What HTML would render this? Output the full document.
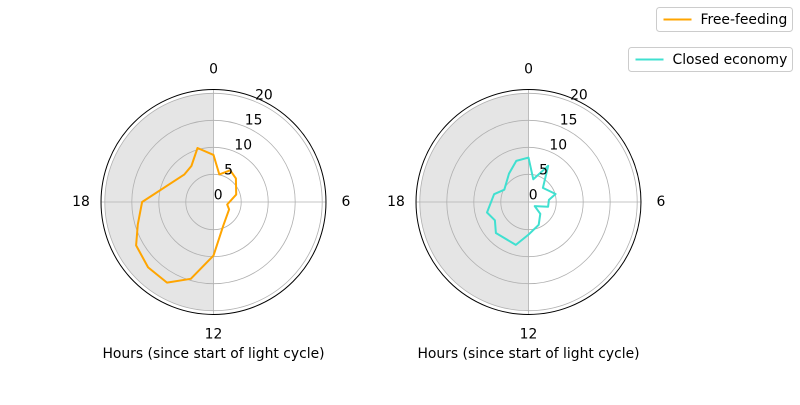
<!DOCTYPE html>
<html><head><meta charset="utf-8"><style>
body{margin:0;background:#fff;}
svg text{font-family:"DejaVu Sans","Liberation Sans",sans-serif;font-size:13.9px;fill:#000;}
</style></head><body>
<svg id="c" width="800" height="400"></svg>
<script>
const hoursFree=[0,0.79,1.85,2.9,4.8,6.7,7.7,10.5,12,13.1,14,15,16.05,16.9,18,20.9,21.9,22.9];
const valuesFree=[8.6,5.1,6.5,5.9,4.3,2.45,3.07,4.6,9.8,14.7,17.1,17.0,16.3,14.5,13.1,7.3,7.7,10.3];
const hoursClosed=[0,0.8,1.9,3.05,4.9,5.6,6.9,8.2,9,10.4,12,13.1,15.1,16.1,17.05,18.85,19.8,21.7,22.9,23.8];
const valuesClosed=[8.1,4.16,7.5,3.6,5.1,3.66,3.6,1.25,2.97,4.5,5.9,8.15,8.2,6.96,7.8,6.4,4.9,6.25,7.8,8.0];
const rTicks=[0,5,10,15,20];
const angleTicks=[0,6,12,18];
const NS="http://www.w3.org/2000/svg";
const svg=document.getElementById('c');
function mk(tag,attrs,parent){const e=document.createElementNS(NS,tag);for(const k in attrs)e.setAttribute(k,attrs[k]);(parent||svg).appendChild(e);return e;}
const PX=5.4,R0=0.7,RMAX=20.7;
function rad(v){return R0+v*PX;}
function pt(cx,cy,h,v){const a=h/24*2*Math.PI;const r=rad(v);return [cx+r*Math.sin(a),cy-r*Math.cos(a)];}
function panel(cx,cy,hours,vals,color,name){
  const g=mk('g',{});
  
  
  const rg=rad(20);
  const sh=mk('path',{d:`M${cx},${cy-rg} A${rg},${rg} 0 0 0 ${cx},${cy+rg} Z`,fill:'#e5e5e5'},g);
  
  
  rTicks.forEach(t=>{if(t>0){const c=mk('circle',{cx,cy,r:rad(t),fill:'none',stroke:'#b0b0b0','stroke-width':0.8},g);
    }});
  const Ro=rad(RMAX);
  mk('line',{x1:cx,y1:cy-Ro,x2:cx,y2:cy+Ro,stroke:'#b0b0b0','stroke-width':0.8},g);
  mk('line',{x1:cx-Ro,y1:cy,x2:cx+Ro,y2:cy,stroke:'#b0b0b0','stroke-width':0.8},g);
  const oc=mk('circle',{cx,cy,r:Ro,fill:'none',stroke:'#000','stroke-width':1},g);
  
  const d=hours.map((h,i)=>{const p=pt(cx,cy,h,vals[i]);return (i?'L':'M')+p[0].toFixed(1)+','+p[1].toFixed(1);}).join('')+'Z';
  const ln=mk('path',{d,fill:'none',stroke:color,'stroke-width':2,'stroke-linejoin':'round'},g);
  
  rTicks.forEach(t=>{const a=22.5*Math.PI/180;const r=rad(t);
    const tx=mk('text',{x:cx+r*Math.sin(a),y:cy-r*Math.cos(a)-2,'text-anchor':'start'},g);tx.textContent=t;
    });
  angleTicks.forEach(h=>{const a=h/24*2*Math.PI;const r=Ro+20;
    const tx=mk('text',{x:cx+r*Math.sin(a),y:cy-r*Math.cos(a)+4,'text-anchor':'middle'},g);tx.textContent=h;
    });
  const xl=mk('text',{x:cx,y:358,'text-anchor':'middle'},g);xl.textContent='Hours (since start of light cycle)';
  
}
panel(213.5,202,hoursFree,valuesFree,'#ffa500','free-feeding');
panel(528.5,202,hoursClosed,valuesClosed,'#40e0d0','closed-economy');
function legend(x,y,w,label,color,name){
  const g=mk('g',{});
  
  
  mk('rect',{x,y,width:w,height:24,rx:3,fill:'#fff',stroke:'#ccc','stroke-width':1},g);
  mk('line',{x1:x+7,y1:y+12,x2:x+35,y2:y+12,stroke:color,'stroke-width':2},g);
  const t=mk('text',{x:x+44,y:y+16.5},g);t.textContent=label;
}
legend(656.5,7.5,136,'Free-feeding','#ffa500','free-feeding');
legend(628.5,47.5,164,'Closed economy','#40e0d0','closed-economy');
</script>
</body></html>
